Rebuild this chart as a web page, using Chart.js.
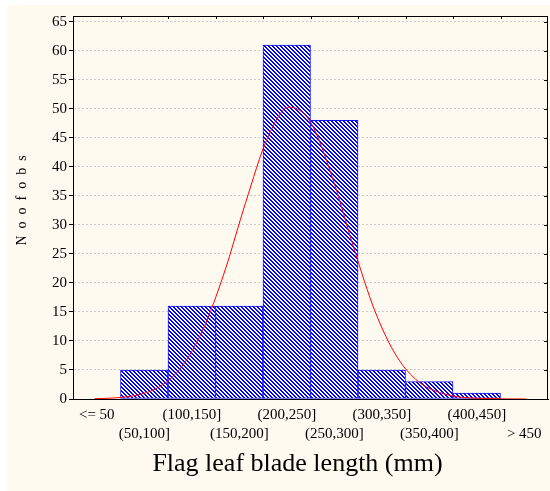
<!DOCTYPE html>
<html>
<head>
<meta charset="utf-8">
<script src="https://cdn.jsdelivr.net/npm/chart.js@4.4.1/dist/chart.umd.min.js"></script>
<style>
    body { margin: 0; background: #ffffff; }
    #panel { position: absolute; left: 7px; top: 5px; width: 543px; height: 486px; background: #fffaf0; }
</style>
</head>
<body>
<div id="panel"><canvas id="histChart" width="543" height="486"></canvas></div>
<script>

    // Bins of flag leaf blade length (mm) and number of observations in each
    var bin_labels = ["<= 50", "(50,100]", "(100,150]", "(150,200]", "(200,250]",
                      "(250,300]", "(300,350]", "(350,400]", "(400,450]", "> 450"];
    var bin_counts = [0, 5, 16, 16, 61, 48, 5, 3, 1, 0];

    // Fitted normal curve, read at every 25 mm
    var curve_mm = [0, 25, 50, 75, 100, 125, 150, 175, 200, 225, 250,
                    275, 300, 325, 350, 375, 400, 425, 450, 475, 500];
    var curve_obs = [0.05, 0.2, 0.7, 2.1, 5.4, 11.8, 21.7, 33.9, 44.9, 50.3, 47.7,
                     38.3, 26.1, 15.0, 7.3, 3.0, 1.1, 0.3, 0.1, 0.02, 0];

    var y_max = 66;
    var serif = "'Liberation Serif', 'Times New Roman', serif";

    var canvas = document.getElementById('histChart');
    var ctx = canvas.getContext('2d');

    // Blue "\" hatching for the bars
    var tile = document.createElement('canvas');
    tile.width = 4;
    tile.height = 4;
    var t = tile.getContext('2d');
    t.fillStyle = '#ffffff';
    t.fillRect(0, 0, 4, 4);
    t.fillStyle = '#0000ff';
    for (var i = 0; i < 4; i++) {
        t.fillRect(i, i, 1, 1);
        t.fillRect((i + 1) % 4, i, 1, 1);
    }
    var hatch = ctx.createPattern(tile, 'repeat');

    // Staggered tick labels: even bins on the first row, odd ones on the second
    var tick_rows = bin_labels.map((lbl, idx) => idx % 2 == 0 ? [lbl, ''] : ['', lbl]);

    var curve_points = curve_mm.map((mm, idx) => ({x: mm, y: curve_obs[idx]}));

    // Frame round the plot with small inward ticks on the top and right sides
    const frame = {
        id: 'frame',
        afterDatasetsDraw(chart) {
            const a = chart.chartArea;
            const c = chart.ctx;
            const xs = chart.scales.x;
            const ys = chart.scales.y;
            c.save();
            c.setLineDash([]);
            c.strokeStyle = '#000000';
            c.lineWidth = 1;
            c.strokeRect(Math.round(a.left) + 0.5, Math.round(a.top) + 0.5,
                         Math.round(a.right - a.left) - 1, Math.round(a.bottom - a.top));
            c.beginPath();
            for (let k = 1; k < bin_labels.length; k++) {
                const px = Math.round((xs.getPixelForTick(k - 1) + xs.getPixelForTick(k)) / 2) + 0.5;
                c.moveTo(px, a.top);
                c.lineTo(px, a.top + 3);
            }
            ys.ticks.forEach((tk) => {
                const py = Math.round(ys.getPixelForValue(tk.value)) + 0.5;
                c.moveTo(a.right, py);
                c.lineTo(a.right - 4, py);
            });
            c.stroke();
            c.restore();
        }
    };

    var histChart = new Chart(ctx, {
        type: 'bar',
        data: {
            labels: tick_rows,
            datasets: [{
                data: bin_counts,
                backgroundColor: hatch,
                borderColor: '#1010ff',
                borderWidth: 1,
                borderSkipped: false,
                grouped: false,
                barPercentage: 1,
                categoryPercentage: 1,
                order: 1
            }, {
                type: 'line',
                data: curve_points,
                xAxisID: 'x2',
                borderColor: '#ff0000',
                borderWidth: 1,
                pointRadius: 0,
                tension: 0.4,
                cubicInterpolationMode: 'monotone',
                fill: false,
                order: 0
            }]
        },
        options: {
            responsive: false,
            animation: false,
            layout: { padding: { top: 11, right: 2, left: 0, bottom: 0 } },
            plugins: {
                legend: { display: false },
                tooltip: { enabled: false }
            },
            scales: {
                x: {
                    offset: true,
                    grid: { display: false, drawTicks: false },
                    border: { display: true, color: '#000000', width: 1 },
                    ticks: {
                        autoSkip: false,
                        maxRotation: 0,
                        padding: 6.5,
                        color: '#000000',
                        font: { family: serif, size: 15, lineHeight: '19px' }
                    },
                    title: {
                        display: true,
                        text: 'Flag leaf blade length (mm)\u00a0\u00a0\u00a0\u00a0',
                        color: '#000000',
                        font: { family: serif, size: 26, lineHeight: 1.2 },
                        padding: { top: 0, bottom: 11 }
                    },
                    afterFit: (scale) => { scale.height = 92; }
                },
                x2: {
                    type: 'linear',
                    display: false,
                    min: 0,
                    max: 500
                },
                y: {
                    min: 0,
                    max: y_max,
                    grid: {
                        color: '#cccccc',
                        tickColor: '#000000',
                        tickBorderDash: [],
                        tickLength: 4
                    },
                    border: { display: true, color: '#000000', width: 1, dash: [2, 2] },
                    ticks: {
                        stepSize: 5,
                        includeBounds: false,
                        padding: 2,
                        color: '#000000',
                        font: { family: serif, size: 15 }
                    },
                    title: {
                        display: true,
                        text: '\u2002\u2002N\u2002o\u2002o\u2002f\u2002o\u2002b\u2002s',
                        color: '#000000',
                        font: { family: serif, size: 14, lineHeight: 1.2 },
                        padding: { top: 7, bottom: 0 }
                    },
                    afterFit: (scale) => { scale.width = 66; }
                }
            }
        },
        plugins: [frame]
    });

</script>
</body>
</html>
